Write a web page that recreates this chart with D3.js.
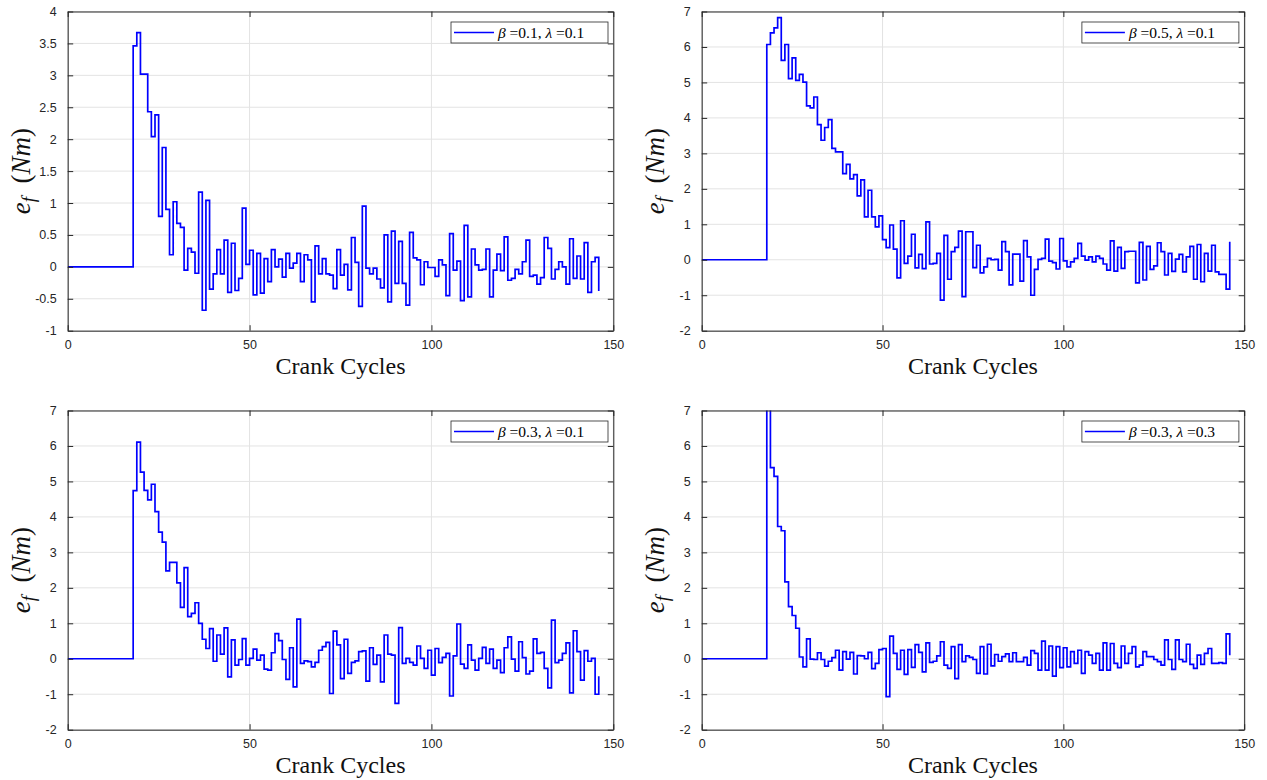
<!DOCTYPE html>
<html><head><meta charset="utf-8">
<script src="https://cdn.jsdelivr.net/npm/d3@7"></script>
<style>body{margin:0;background:#fff}</style>
</head><body><svg id="c" width="1267" height="780"></svg>
<script>
// ---- data (e_f in Nm, one value per crank cycle, starting at cycle 0) ----
const ef_b01_l01 = [0,0,0,0,0,0,0,0,0,0,0,0,0,0,0,0,0,0,
 3.46,3.67,3.02,3.02,2.43,2.04,2.38,0.79,1.87,0.90,0.19,1.02,0.68,0.62,-0.05,0.29,0.23,-0.10,1.17,-0.68,
 1.04,-0.35,-0.11,0.27,-0.11,0.42,-0.40,0.37,-0.37,-0.18,0.92,0.04,0.26,-0.44,0.21,-0.41,0.13,-0.23,0.27,0.0,
 0.12,-0.16,0.21,-0.02,0.06,0.21,-0.23,0.19,0.11,-0.55,0.33,-0.11,0.13,-0.11,-0.13,-0.34,0.27,-0.13,0.04,-0.36,
 0.46,0.07,-0.62,0.95,-0.02,-0.11,-0.02,-0.19,-0.33,0.50,-0.55,0.56,-0.26,0.40,-0.26,-0.60,0.54,0.14,0.11,-0.28,
 0.08,-0.01,-0.01,-0.15,0.11,0.03,-0.45,0.52,-0.05,0.09,-0.53,0.65,-0.47,0.28,0.03,-0.05,-0.04,0.28,-0.47,-0.05,
 0.20,-0.06,0.47,-0.21,-0.18,-0.04,-0.11,0.08,0.42,-0.15,-0.13,-0.27,-0.17,0.46,0.29,-0.19,-0.04,0.08,0.0,-0.27,
 0.44,-0.18,0.17,-0.19,0.38,-0.40,0.08,0.15,-0.38];
const ef_b05_l01 = [0,0,0,0,0,0,0,0,0,0,0,0,0,0,0,0,0,0,
 6.07,6.40,6.54,6.83,5.62,6.07,5.11,5.69,5.06,5.23,5.01,4.34,4.28,4.59,3.81,3.37,3.73,3.95,3.14,3.04,3.04,
 2.43,2.69,2.28,2.40,1.80,2.25,1.21,1.96,1.21,0.93,1.24,0.57,0.34,0.98,0.30,-0.51,1.10,-0.10,0.10,0.72,-0.23,
 0.15,-0.25,1.07,-0.12,-0.10,0.18,-1.14,0.69,-0.55,0.23,0.35,0.81,-1.04,0.79,0.79,-0.22,0.41,-0.37,-0.20,0.04,0.0,
 0.01,-0.29,0.51,0.23,-0.71,0.16,0.16,-0.60,0.54,0.08,-1.00,-0.27,0.01,0.04,0.58,-0.04,-0.08,-0.26,0.60,-0.03,
 -0.20,-0.06,0.04,0.46,0.10,-0.01,0.08,-0.06,0.10,0.04,-0.12,-0.29,0.53,-0.32,0.35,-0.24,0.23,0.24,0.24,-0.65,
 0.49,-0.57,0.38,-0.27,-0.17,0.48,0.23,-0.43,0.18,-0.33,0.02,0.15,-0.34,0.08,0.38,-0.55,0.43,-0.62,0.18,-0.32,
 0.41,-0.34,-0.41,-0.41,-0.83,0.51];
const ef_b03_l01 = [0,0,0,0,0,0,0,0,0,0,0,0,0,0,0,0,0,0,
 4.74,6.11,5.26,4.75,4.48,4.92,4.15,3.57,3.29,2.48,2.72,2.72,2.14,1.45,2.57,1.19,1.28,1.58,1.00,0.55,
 0.29,0.85,-0.07,0.67,0.13,0.87,-0.51,0.53,-0.18,-0.02,0.57,-0.18,0.01,0.27,-0.04,0.10,-0.29,-0.32,0.17,0.71,
 0.51,-0.02,-0.58,0.31,-0.79,1.12,-0.13,-0.06,-0.08,-0.23,-0.10,0.24,0.34,0.46,-0.98,0.78,0.39,-0.56,0.55,-0.41,
 -0.10,-0.06,0.20,0.22,-0.63,0.31,-0.16,0.10,-0.65,0.67,0.13,0.10,-1.26,0.88,-0.13,0.01,-0.10,-0.18,0.36,0.01,
 -0.27,0.24,-0.46,0.29,-0.11,0.04,0.15,-1.05,0.08,0.98,-0.15,-0.27,0.39,-0.04,-0.32,0.01,0.32,-0.13,0.27,-0.27,
 -0.04,-0.39,0.31,0.62,-0.01,-0.35,0.48,0.03,-0.43,-0.35,0.56,0.15,0.18,-0.27,-0.82,1.09,-0.11,-0.04,0.15,0.45,
 -0.96,0.79,0.20,-0.60,0.23,-0.07,0.01,-1.00,-0.49];
const ef_b03_l03 = [0,0,0,0,0,0,0,0,0,0,0,0,0,0,0,0,0,0,
 7.8,5.39,5.14,3.73,3.61,2.17,1.47,1.22,0.86,0.05,-0.23,0.56,-0.01,-0.02,0.17,-0.02,-0.21,-0.07,0.03,0.24,
 -0.32,0.20,-0.01,0.18,-0.43,0.09,0.08,0.0,0.18,-0.28,-0.13,0.26,0.29,-1.07,0.64,0.15,-0.30,0.24,-0.44,0.26,
 -0.24,0.40,0.18,-0.37,0.45,-0.10,-0.07,0.08,0.48,-0.18,-0.27,0.34,-0.56,0.40,-0.08,0.08,0.04,-0.02,-0.41,0.34,
 -0.43,0.41,-0.20,0.12,-0.07,0.06,0.14,-0.08,0.17,-0.08,-0.08,0.04,-0.18,0.23,0.15,-0.32,0.50,-0.32,0.36,-0.49,
 0.34,-0.25,0.31,-0.23,0.20,-0.13,0.24,-0.41,0.20,0.10,-0.13,0.15,-0.32,0.45,-0.32,0.43,-0.13,-0.25,0.36,-0.13,
 0.15,0.34,-0.23,-0.18,0.20,0.06,0.06,-0.02,-0.08,-0.18,0.53,-0.02,-0.30,0.53,-0.02,-0.08,0.41,-0.16,-0.27,0.10,
 -0.16,0.15,0.29,-0.13,-0.13,-0.11,-0.13,0.70,0.10];

const xTicks = [0, 50, 100, 150];
const yTicksSmall = [-1, -0.5, 0, 0.5, 1, 1.5, 2, 2.5, 3, 3.5, 4];
const yTicksLarge = [-2, -1, 0, 1, 2, 3, 4, 5, 6, 7];
const legendBeta = ["0.1", "0.5", "0.3", "0.3"];
const legendLambda = ["0.1", "0.1", "0.1", "0.3"];
const xLabel = "Crank Cycles";

// ---- layout ----
const H = 319.2;
const panels = [
  {data: ef_b01_l01, ticks: yTicksSmall, left: 67.7, top: 11.5, w: 545.6},
  {data: ef_b05_l01, ticks: yTicksLarge, left: 701.7, top: 11.5, w: 542.5},
  {data: ef_b03_l01, ticks: yTicksLarge, left: 67.7, top: 410.5, w: 545.6},
  {data: ef_b03_l03, ticks: yTicksLarge, left: 701.7, top: 410.5, w: 542.5}
];

const svg = d3.select("#c");
const axisCol = "#262626";
const tickFont = "'Liberation Sans', Arial, Helvetica, sans-serif";
const serif = "'Liberation Serif', 'Times New Roman', serif";

panels.forEach((p, i) => {
  const W = p.w;
  const x = d3.scaleLinear().domain([0, 150]).range([0, W]);
  const y = d3.scaleLinear().domain([p.ticks[0], p.ticks[p.ticks.length - 1]]).range([H, 0]);
  const g = svg.append("g").attr("transform", `translate(${p.left},${p.top})`);

  // grid
  g.selectAll("line.gx").data(xTicks).join("line")
    .attr("x1", d => x(d)).attr("x2", d => x(d)).attr("y1", 0).attr("y2", H)
    .attr("stroke", "#e3e3e3").attr("stroke-width", 1);
  g.selectAll("line.gy").data(p.ticks).join("line")
    .attr("y1", d => y(d)).attr("y2", d => y(d)).attr("x1", 0).attr("x2", W)
    .attr("stroke", "#e3e3e3").attr("stroke-width", 1);

  // data stairs
  const cid = "clip" + i;
  g.append("clipPath").attr("id", cid).append("rect").attr("width", W).attr("height", H);
  const line = d3.line().x((d, k) => x(k)).y(d => y(d)).curve(d3.curveStepAfter);
  g.append("path").datum(p.data).attr("d", line).attr("clip-path", `url(#${cid})`)
    .attr("fill", "none").attr("stroke", "#0000ff").attr("stroke-width", 1.7)
    .attr("stroke-linejoin", "miter");

  // axes (box with inward ticks on all sides)
  const tl = 5.5;
  const axB = d3.axisBottom(x).tickValues(xTicks).tickSizeInner(-tl).tickSizeOuter(0).tickPadding(9);
  const axT = d3.axisTop(x).tickValues(xTicks).tickSizeInner(-tl).tickSizeOuter(0).tickFormat("");
  const axL = d3.axisLeft(y).tickValues(p.ticks).tickSizeInner(-tl).tickSizeOuter(0).tickPadding(11).tickFormat(d => String(d));
  const axR = d3.axisRight(y).tickValues(p.ticks).tickSizeInner(-tl).tickSizeOuter(0).tickFormat("");
  [[axB, `translate(0,${H})`], [axT, "translate(0,0)"], [axL, "translate(0,0)"], [axR, `translate(${W},0)`]]
    .forEach(([ax, tr]) => {
      const a = g.append("g").attr("transform", tr).call(ax);
      a.selectAll("path.domain").attr("stroke", axisCol).attr("stroke-width", 1);
      a.selectAll(".tick line").attr("stroke", axisCol).attr("stroke-width", 1);
      a.selectAll(".tick text").attr("fill", axisCol).style("font-family", tickFont).style("font-size", "12.5px");
    });

  // x label
  g.append("text").attr("x", W / 2).attr("y", H + 43.5).attr("text-anchor", "middle")
    .style("font-family", serif).style("font-size", "24px").attr("fill", "#111").text(xLabel);

  // y label  e_f (Nm)
  const yl = g.append("text").attr("transform", `translate(-38,${H / 2}) rotate(-90)`)
    .attr("text-anchor", "middle").style("font-family", serif).style("font-size", "27px").attr("fill", "#111");
  yl.append("tspan").style("font-style", "italic").text("e");
  yl.append("tspan").style("font-style", "italic").style("font-size", "19px").attr("dy", 5).text("f");
  yl.append("tspan").attr("dy", -5).text("\u00a0\u00a0(");
  yl.append("tspan").style("font-style", "italic").text("Nm");
  yl.append("tspan").text(")");

  // legend
  const lw = 157, lh = 21;
  const lx = W - 5.3 - lw, ly = 10.5;
  const lg = g.append("g").attr("transform", `translate(${lx},${ly})`);
  lg.append("rect").attr("width", lw).attr("height", lh).attr("fill", "#fff")
    .attr("stroke", "#262626").attr("stroke-width", 0.8);
  lg.append("line").attr("x1", 3).attr("x2", 43).attr("y1", lh / 2).attr("y2", lh / 2)
    .attr("stroke", "#0000ff").attr("stroke-width", 1.7);
  const lt = lg.append("text").attr("x", 47).attr("y", lh / 2 + 5)
    .style("font-family", serif).style("font-size", "15.5px").attr("fill", "#000");
  lt.append("tspan").style("font-style", "italic").text("\u03b2");
  lt.append("tspan").text(" =" + legendBeta[i] + ", ");
  lt.append("tspan").style("font-style", "italic").text("\u03bb");
  lt.append("tspan").text(" =" + legendLambda[i]);
});
</script>
</body></html>
